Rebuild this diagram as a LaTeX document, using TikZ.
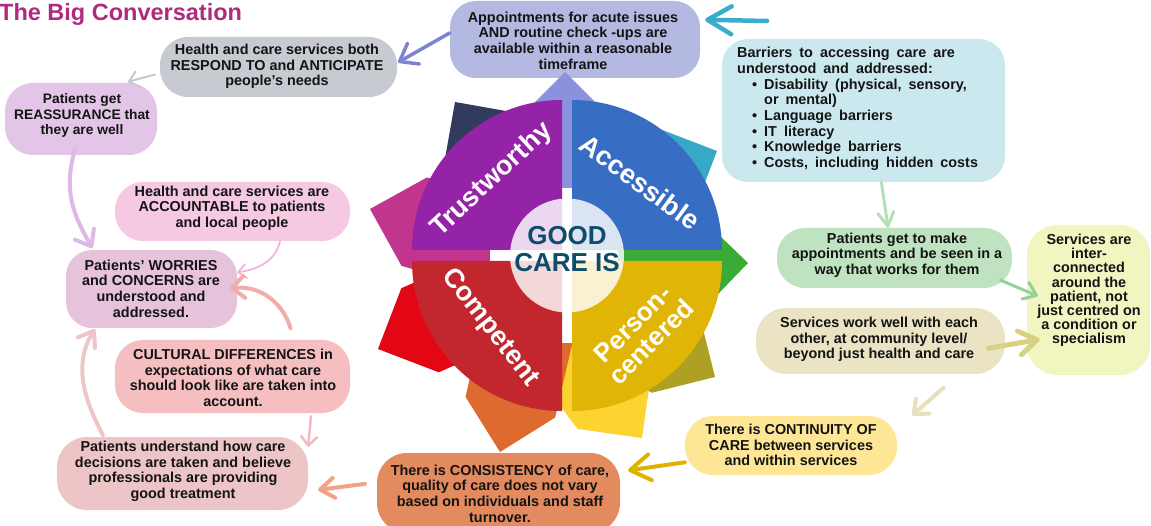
\documentclass[tikz,border=0pt]{standalone}
\usepackage{fontspec}
\setmainfont{Liberation Sans}
\usetikzlibrary{arrows.meta}

% box fills
\definecolor{cTitle}{HTML}{B02A7E}
\definecolor{fAppt}{HTML}{B4B9E1}
\definecolor{fRespond}{HTML}{C8CAD2}
\definecolor{fReassure}{HTML}{E3C5E8}
\definecolor{fAccount}{HTML}{F6C9E2}
\definecolor{fWorries}{HTML}{E6C3DA}
\definecolor{fCultural}{HTML}{F5BFC2}
\definecolor{fUnderstand}{HTML}{EDC5C6}
\definecolor{fConsist}{HTML}{E48A5F}
\definecolor{fContinuity}{HTML}{FDE797}
\definecolor{fSvcwork}{HTML}{EAE3C4}
\definecolor{fApptg}{HTML}{BFE3C1}
\definecolor{fInter}{HTML}{F1F6C0}
\definecolor{fBarriers}{HTML}{CAE8EE}
% petals
\definecolor{pNavy}{HTML}{323B5D}
\definecolor{pTeal}{HTML}{37A9C7}
\definecolor{pGreen}{HTML}{3BAA36}
\definecolor{pOlive}{HTML}{ADA024}
\definecolor{pYellow}{HTML}{FDD331}
\definecolor{pOrange}{HTML}{DE6A2F}
\definecolor{pRed}{HTML}{E30613}
\definecolor{pMagenta}{HTML}{C1358F}
\definecolor{pPeri}{HTML}{8A92DE}
% quadrants
\definecolor{qPurple}{HTML}{9523A7}
\definecolor{qBlue}{HTML}{376DC2}
\definecolor{qRed}{HTML}{C1272D}
\definecolor{qGold}{HTML}{E1B505}
\definecolor{cCentre}{HTML}{0D4D6A}
% connectors
\definecolor{aCyan}{HTML}{38AECB}
\definecolor{aPeri}{HTML}{7C84CF}
\definecolor{aGray}{HTML}{C5C8D2}
\definecolor{aPurple}{HTML}{DDB9E8}
\definecolor{aPink}{HTML}{EFB6DA}
\definecolor{aSalmon}{HTML}{F1ACAC}
\definecolor{aPinkB}{HTML}{F1B9C2}
\definecolor{aRose}{HTML}{EEC6C8}
\definecolor{aOrange}{HTML}{F0A385}
\definecolor{aGold}{HTML}{E0B200}
\definecolor{aBeige}{HTML}{E6E0BC}
\definecolor{aOlive}{HTML}{D8D184}
\definecolor{aGreen}{HTML}{93D39A}
\definecolor{aGreenB}{HTML}{B5DFB6}

\newcommand{\boxfont}{\fontsize{14.4}{15.6}\selectfont\bfseries}
\newcommand{\bitem}[1]{\makebox[27pt][l]{\hspace{15pt}\textbullet}#1}
% home-plate petal: colour, tip x, tip y (down), pointing angle
\newcommand{\petal}[4]{\fill[#1,shift={(#2,-#3)},rotate=#4]
  (0,0) -- (-46,46) -- (-130,46) -- (-130,-46) -- (-46,-46) -- cycle;}

\tikzset{
  box/.style={rectangle, rounded corners=26pt, inner sep=0pt, draw=none},
  txt/.style={font=\boxfont, align=center, inner sep=0pt, text=black!92},
  qtext/.style={font=\fontsize{27}{27}\selectfont\bfseries, text=white, inner sep=0pt, align=center},
  conn/.style={line cap=round, line join=round},
}

\begin{document}
\begin{tikzpicture}[x=1pt,y=1pt]
\useasboundingbox (0,0) rectangle (1151,-526);

% title
\node[anchor=base west, inner sep=0pt, font=\fontsize{23.5}{24}\selectfont\bfseries, text=cTitle] (title) at (-1,-21) {The Big Conversation};

% boxes
\node[box, fill=fAppt, minimum width=250pt, minimum height=77pt] (appt) at (575,-39.5) {};
\node[box, fill=fRespond, minimum width=237pt, minimum height=60pt, rounded corners=28pt] (respond) at (278.5,-67) {};
\node[box, fill=fReassure, minimum width=152pt, minimum height=72pt, rounded corners=28pt] (reassure) at (81,-119) {};
\node[box, fill=fAccount, minimum width=235pt, minimum height=59pt, rounded corners=28pt] (account) at (232.5,-211.5) {};
\node[box, fill=fWorries, minimum width=171pt, minimum height=78pt] (worries) at (151.5,-289) {};
\node[box, fill=fCultural, minimum width=235pt, minimum height=73pt, rounded corners=28pt] (cultural) at (232.5,-376.5) {};
\node[box, fill=fUnderstand, minimum width=251pt, minimum height=73pt, rounded corners=30pt] (understand) at (182.5,-473.5) {};
\node[box, fill=fConsist, minimum width=243pt, minimum height=80pt, rounded corners=30pt] (consist) at (498.5,-493) {};
\node[box, fill=fContinuity, minimum width=212pt, minimum height=59pt, rounded corners=28pt] (continuity) at (791,-445.5) {};
\node[box, fill=fSvcwork, minimum width=249pt, minimum height=66pt, rounded corners=30pt] (svcwork) at (880.5,-341) {};
\node[box, fill=fApptg, minimum width=235pt, minimum height=60pt, rounded corners=28pt] (apptg) at (894.5,-258) {};
\node[box, fill=fInter, minimum width=123pt, minimum height=150pt, rounded corners=30pt] (inter) at (1088.5,-300) {};
\node[box, fill=fBarriers, minimum width=283pt, minimum height=143pt] (barriers) at (863.5,-110.5) {};

% wheel: petals behind the quarters
\petal{pNavy}{455}{102}{125}
\petal{pTeal}{717}{151}{24}
\petal{pRed}{378}{349}{204}
\petal{pMagenta}{370}{209}{164}
\petal{pYellow}{642}{438}{-53}
\petal{pOrange}{500}{452}{-103}
\petal{pOlive}{715}{377}{-31}
\petal{pGreen}{748}{263}{1}
\petal{pPeri}{565}{72}{90}
% white cross in the gaps
\fill[white] (562,-188) rectangle (572,-343);
\fill[white] (490,-250) rectangle (567,-261);
% quarters
\fill[qPurple] (562,-250) -- (412,-250) arc[start angle=180, end angle=90, radius=150] -- cycle;
\fill[qBlue] (572,-250) -- (572,-100) arc[start angle=90, end angle=0, radius=150] -- cycle;
\fill[qRed] (562,-261) -- (412,-261) arc[start angle=180, end angle=270, radius=150] -- cycle;
\fill[qGold] (572,-261) -- (722,-261) arc[start angle=0, end angle=-90, radius=150] -- cycle;
% centre disc
\fill[white, fill opacity=0.82] (567,-255.5) circle[radius=57];
\node[font=\fontsize{26}{27}\selectfont\bfseries, text=cCentre, align=center, inner sep=0pt] (centre) at (567,-249) {GOOD\\CARE IS};
\node[qtext, rotate=43] (trust) at (492,-180) {Trustworthy};
\node[qtext, rotate=-36] (access) at (640,-182) {Accessible};
\node[qtext, rotate=-52] (compet) at (490,-328) {Competent};
\node[qtext, rotate=45, font=\fontsize{26}{26}\selectfont\bfseries] (person) at (642,-333) {Person-\\centered};

% connectors
\coordinate (cyanTail) at (767,-21);
\draw[conn, line width=4.5pt, aCyan, -{Straight Barb[length=24pt,width=28pt,round]}, shorten >=5pt] (cyanTail) -- (appt.9);
\draw[conn, line width=3.5pt, aPeri, -{Straight Barb[length=16pt,width=24pt,round]}, shorten >=1pt] (appt.177) -- (respond.2);
\draw[conn, line width=2pt, aGray, -{Straight Barb[length=9pt,width=16pt,round]}, shorten <=5pt, shorten >=4pt] (respond.183) -- (reassure.40);
\draw[conn, line width=4pt, aPurple, -{Straight Barb[length=14pt,width=22pt,round]}, shorten <=-7pt, shorten >=2pt] (reassure.258) to[out=253,in=120] (worries.146);
\draw[conn, line width=1.8pt, aPink, -{Straight Barb[length=8pt,width=14pt,round]}] (account.328) to[out=257,in=8] (worries.11);
\draw[conn, line width=4pt, aSalmon, -{Straight Barb[length=12pt,width=22pt,round]}, shorten <=12pt, shorten >=-7pt] (cultural.31) to[out=105,in=5] (worries.1);
\draw[conn, line width=2.5pt, aPinkB, -{Straight Barb[length=9pt,width=16pt,round]}, shorten <=3pt] (cultural.335) -- (understand.12);
\draw[conn, line width=4pt, aRose, -{Straight Barb[length=14pt,width=20pt,round]}, shorten <=2pt, shorten >=1pt] (understand.155) to[out=118,in=238] (worries.215);
\draw[conn, line width=4pt, aOrange, -{Straight Barb[length=14pt,width=20pt,round]}, shorten <=12pt, shorten >=10pt] (consist.175) -- (understand.352.5);
\draw[conn, line width=4pt, aGold, -{Straight Barb[length=20pt,width=26pt,round]}, shorten >=8pt] (continuity.189) -- (consist.10);
\draw[conn, line width=4pt, aBeige, -{Straight Barb[length=12pt,width=20pt,round]}, shorten <=20pt, shorten >=20pt] (svcwork.337.5) -- (continuity.9.4);
\draw[conn, line width=5pt, aOlive, -{Straight Barb[length=18pt,width=24pt,round]}, shorten <=-17pt, shorten >=-13pt] (svcwork.358.6) -- (inter.214.3);
\draw[conn, line width=3pt, aGreen, -{Straight Barb[length=12pt,width=18pt,round]}, shorten <=-13pt, shorten >=-12pt] (apptg.347) -- (inter.172);
\draw[conn, line width=3pt, aGreenB, -{Straight Barb[length=14pt,width=16pt,round]}] (barriers.284.5) -- (apptg.102);

% box texts
\node[txt] (apptT) at (573,-40.5) {Appointments for acute issues\\AND routine check -ups are\\available within a reasonable\\timeframe};
\node[txt] (respondT) at (277,-66.5) {Health and care services both\\RESPOND TO and ANTICIPATE\\people’s needs};
\node[txt, font=\fontsize{13.8}{15.6}\selectfont\bfseries] (reassureT) at (82,-115.5) {Patients get\\REASSURANCE that\\they are well};
\node[txt] (accountT) at (232,-208) {Health and care services are\\ACCOUNTABLE to patients\\and local people};
\node[txt] (worriesT) at (151,-288.5) {Patients’ WORRIES\\and CONCERNS are\\understood and\\addressed.};
\node[txt] (culturalT) at (233,-378) {CULTURAL DIFFERENCES in\\expectations of what care\\should look like are taken into\\account.};
\node[txt] (understandT) at (183,-471.5) {Patients understand how care\\decisions are taken and believe\\professionals are providing\\good treatment};
\node[txt] (consistT) at (500,-493.5) {There is CONSISTENCY of care,\\quality of care does not vary\\based on individuals and staff\\turnover.};
\node[txt] (continuityT) at (791,-445) {There is CONTINUITY OF\\CARE between services\\and within services};
\node[txt] (svcworkT) at (879,-339.5) {Services work well with each\\other, at community level/\\beyond just health and care};
\node[txt] (apptgT) at (897,-255) {Patients get to make\\appointments and be seen in a\\way that works for them};
\node[txt, font=\fontsize{14.4}{14.2}\selectfont\bfseries] (interT) at (1089,-290.5) {Services are\\inter-\\connected\\around the\\patient, not\\just centred on\\a condition or\\specialism};
\node[txt, align=left, anchor=north west, font={\fontsize{14.4}{15.7}\selectfont\bfseries\spaceskip=7pt plus 1pt\relax}] (barriersT) at (737,-47) {Barriers to accessing care are\\understood and addressed:\\\bitem{Disability (physical, sensory,}\\\hspace*{27pt}or mental)\\\bitem{Language barriers}\\\bitem{IT literacy}\\\bitem{Knowledge barriers}\\\bitem{Costs, including hidden costs}};
\end{tikzpicture}
\end{document}
